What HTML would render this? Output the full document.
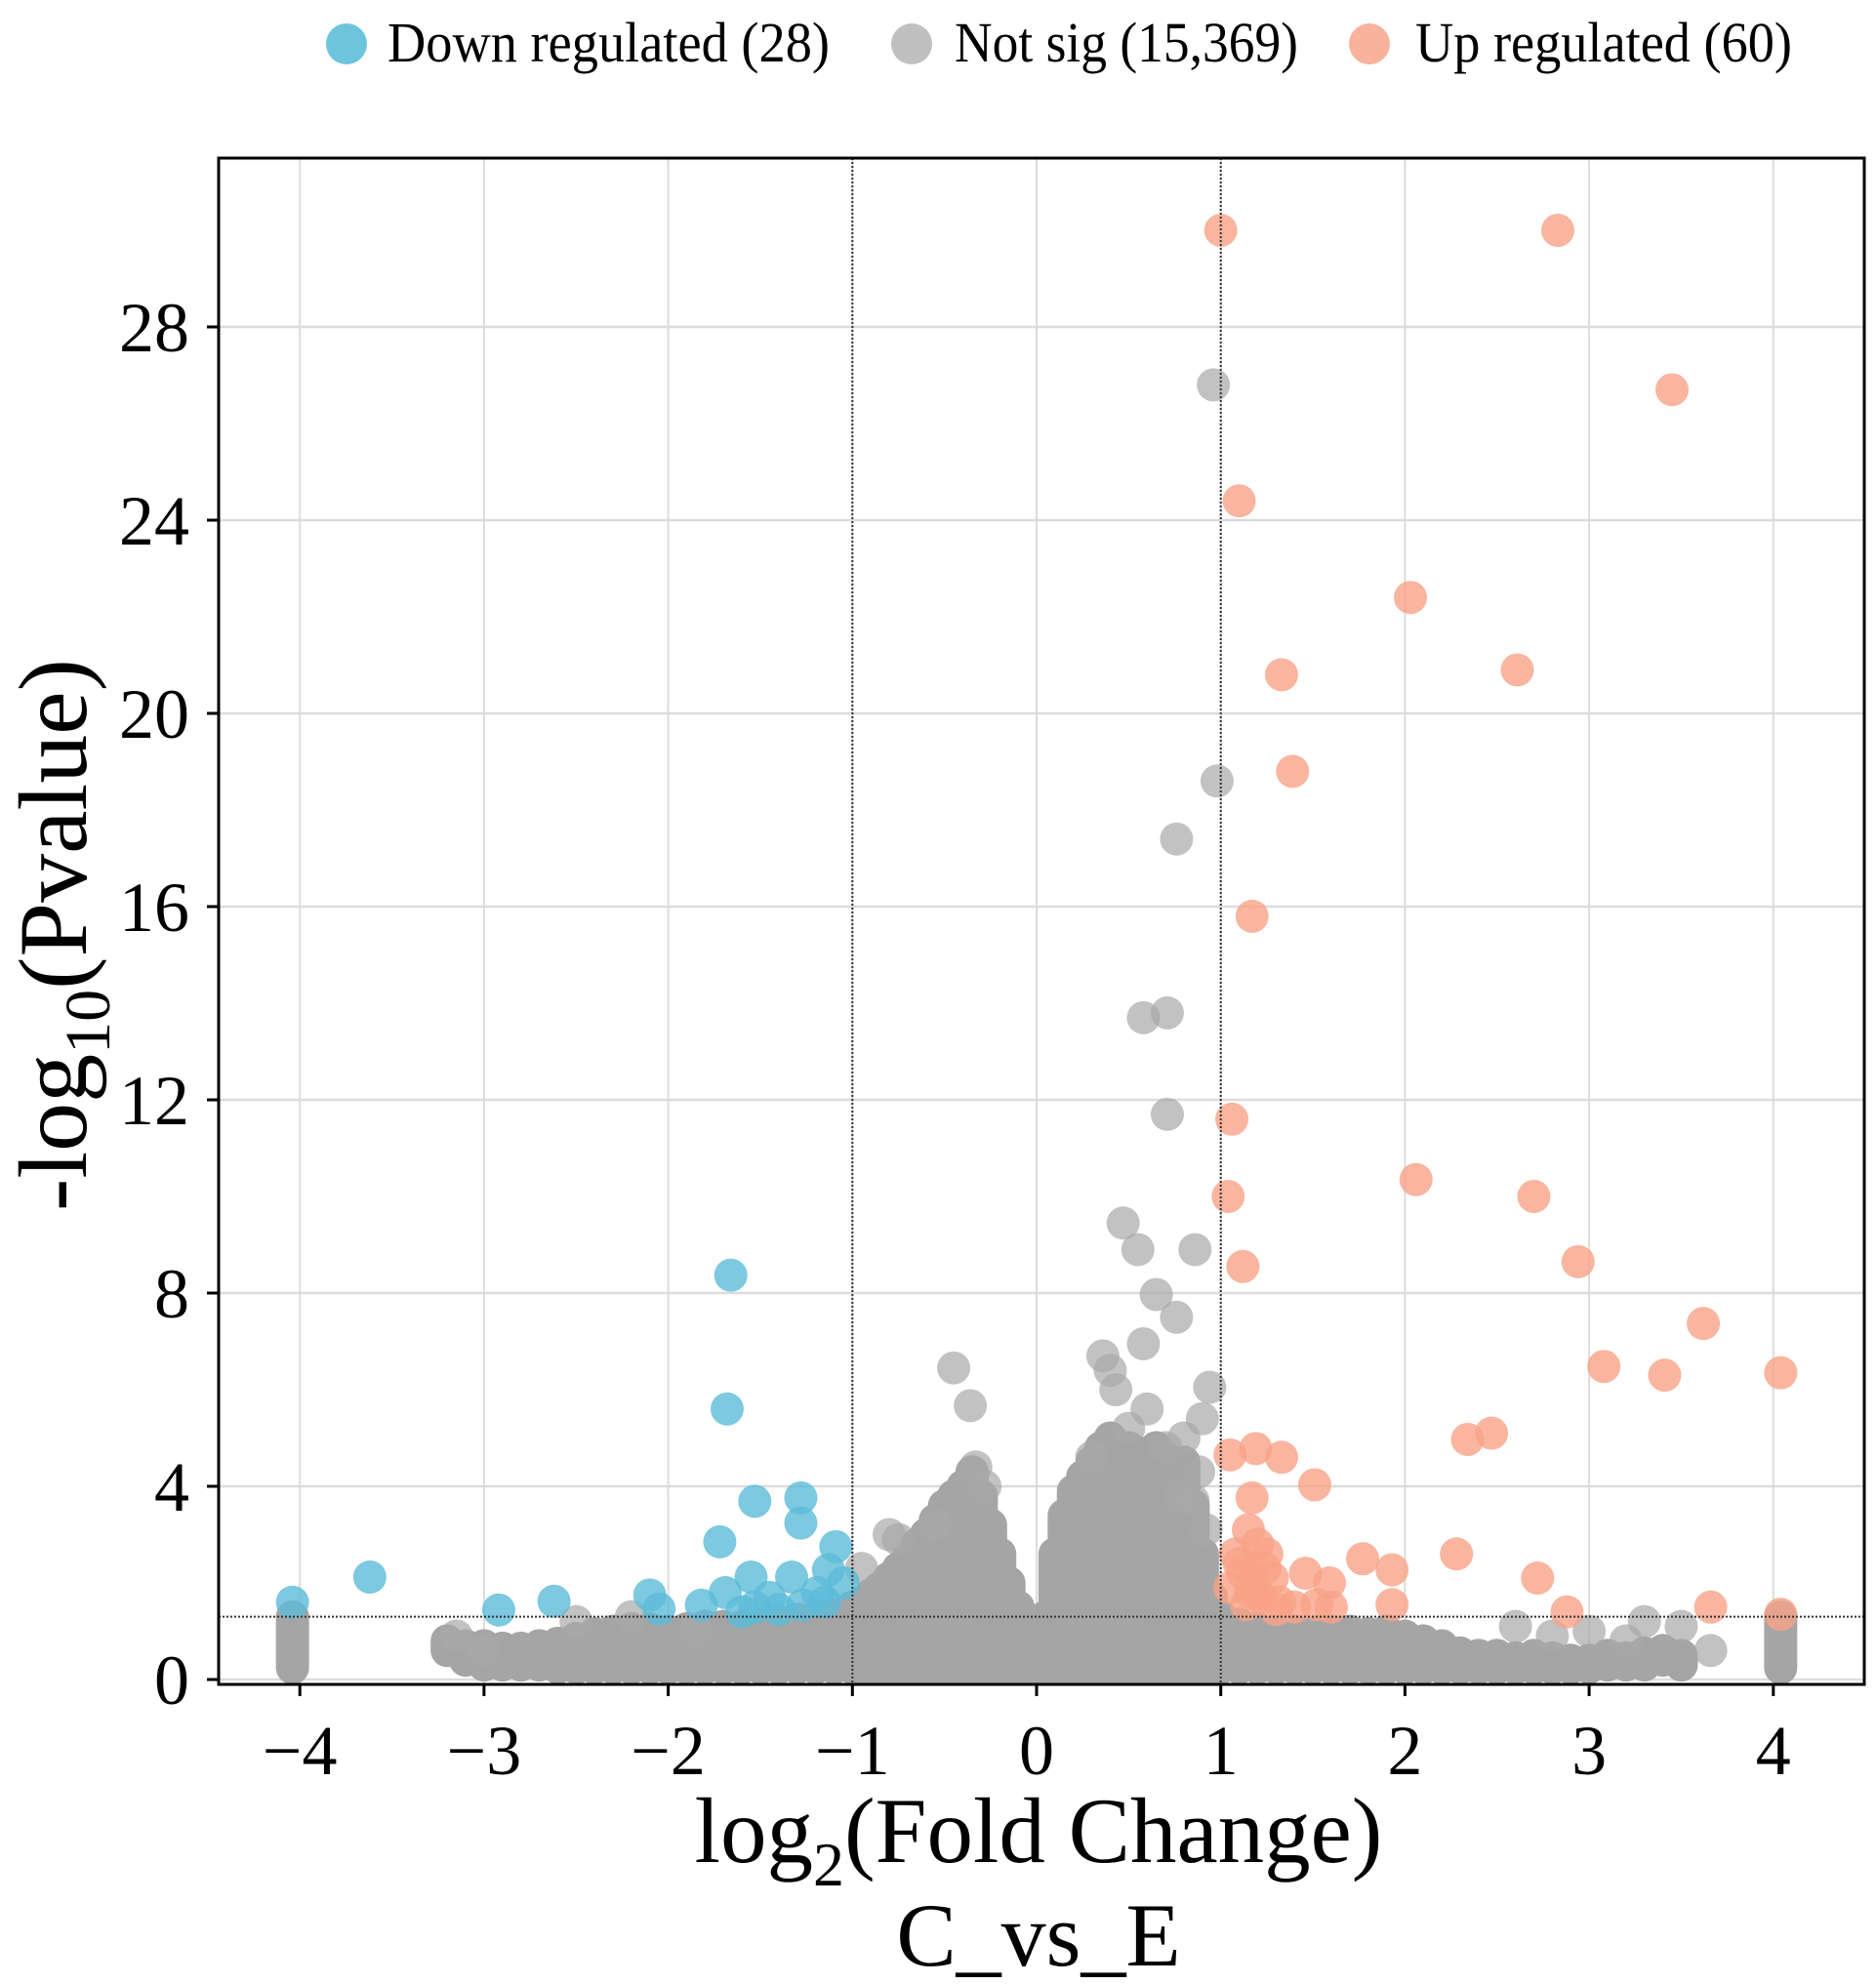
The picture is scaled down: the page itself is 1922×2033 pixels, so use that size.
<!DOCTYPE html>
<html><head><meta charset="utf-8"><title>Volcano plot C_vs_E</title>
<style>html,body{margin:0;padding:0;background:#fff}svg{display:block}text{font-family:"Liberation Serif","DejaVu Serif",serif;fill:#000}</style>
</head><body>
<svg id="chart" width="1922" height="2033" viewBox="0 0 1922 2033" xmlns="http://www.w3.org/2000/svg">
<g id="legend">
 <g><circle cx="355" cy="45" r="21" fill="#6cc5dd"/><text x="397" y="63" font-size="58" textLength="453" lengthAdjust="spacingAndGlyphs">Down regulated (28)</text></g>
 <g><circle cx="934" cy="45" r="21" fill="#c0c0c0"/><text x="978" y="63" font-size="58" textLength="352" lengthAdjust="spacingAndGlyphs">Not sig (15,369)</text></g>
 <g><circle cx="1403" cy="45" r="21" fill="#f9b29c"/><text x="1450" y="63" font-size="58" textLength="386" lengthAdjust="spacingAndGlyphs">Up regulated (60)</text></g>
</g>
<g id="grid"></g>
<g id="cloud"></g>
<g id="marks"></g>
<g id="refs"></g>
<rect x="224" y="162" width="1686" height="1564" fill="none" stroke="#000" stroke-width="3"/>
<g id="axes"></g>
<text transform="translate(88,958) rotate(-90)" text-anchor="middle" font-size="100">-log<tspan font-size="66" dy="24">10</tspan><tspan dy="-24">(Pvalue)</tspan></text>
<text x="1064" y="1908" text-anchor="middle" font-size="95">log<tspan font-size="64" dy="24">2</tspan><tspan dy="-24">(Fold Change)</tspan></text>
<text x="1064" y="2014" text-anchor="middle" font-size="92">C_vs_E</text>
</svg>
<script>
const xTicks=[-4,-3,-2,-1,0,1,2,3,4];
const xTickLabels=["\u22124","\u22123","\u22122","\u22121","0","1","2","3","4"];
const yTicks=[0,4,8,12,16,20,24,28];
const yTickLabels=["0","4","8","12","16","20","24","28"];
const fcCut=[-1,1];
const pCut=1.3;
const upX=[1.00,2.83,3.45,1.10,2.03,1.33,2.61,1.39,1.17,1.06,1.04,1.12,2.06,2.70,2.94,3.62,3.08,3.41,4.04,2.34,2.47,1.05,1.19,1.33,1.51,1.17,2.28,1.77,1.93,2.72,1.59,1.46,1.15,1.20,1.25,1.10,1.18,1.28,1.16,1.05,1.32,1.52,1.60,1.93,2.88,3.66,4.04,1.08,1.22,1.12,1.30,1.40,1.24,1.14];
const upY=[30.0,30.0,26.7,24.4,22.4,20.8,20.9,18.8,15.8,11.6,10.0,8.55,10.35,10.0,8.65,7.37,6.48,6.3,6.35,4.97,5.1,4.65,4.78,4.6,4.03,3.76,2.6,2.5,2.27,2.1,2.0,2.2,3.1,2.8,2.6,2.4,2.0,2.1,1.8,1.9,1.6,1.55,1.5,1.55,1.4,1.5,1.35,2.6,1.7,2.2,1.45,1.5,2.3,1.55];
const downX=[-1.66,-1.68,-1.53,-1.28,-1.28,-1.72,-1.09,-3.62,-1.55,-1.33,-1.13,-1.69,-2.10,-2.62,-2.92,-4.04,-1.82,-2.05,-1.53,-1.27,-1.19,-1.05,-1.60,-1.40,-1.15,-1.45];
const downY=[8.37,5.6,3.69,3.76,3.24,2.85,2.75,2.12,2.12,2.12,2.27,1.8,1.75,1.62,1.44,1.6,1.54,1.46,1.5,1.54,1.8,2.0,1.4,1.45,1.6,1.7];
const sigX=[0.96,0.98,0.76,0.58,0.71,0.71,0.47,0.55,0.86,0.65,0.76,0.58,0.36,-0.45,-0.36,0.94,0.60,0.43,0.40,0.90,0.80,0.88,-0.33,-0.28,-0.80,-0.75,-0.95,0.70,0.78,0.85,0.92,0.50,0.30,-0.55,-3.15,-3.0,-2.5,-2.2,-1.85,3.0,3.2,3.5,3.66,3.3,2.6,2.8];
const sigY=[26.8,18.6,17.4,13.7,13.8,11.7,9.45,8.9,8.9,7.97,7.5,6.95,6.7,6.45,5.67,6.05,5.6,6.0,6.4,5.4,5.0,4.3,4.4,4.0,3.0,2.9,2.3,4.8,3.8,3.7,3.1,5.2,4.6,3.2,0.9,0.6,1.2,1.3,1.0,1.0,0.8,1.1,0.6,1.2,1.1,0.9];
const cloudX=[-3.2,-3.1,-3.0,-2.9,-2.8,-2.7,-2.6,-2.5,-2.4,-2.3,-2.2,-2.1,-2.0,-1.9,-1.8,-1.7,-1.6,-1.5,-1.4,-1.3,-1.2,-1.1,-1.0,-0.95,-0.9,-0.85,-0.8,-0.75,-0.7,-0.65,-0.6,-0.55,-0.5,-0.45,-0.4,-0.35,-0.3,-0.25,-0.2,-0.15,-0.1,-0.05,0.0,0.05,0.1,0.15,0.2,0.25,0.3,0.35,0.4,0.45,0.5,0.55,0.6,0.65,0.7,0.75,0.8,0.85,0.9,0.95,1.0,1.1,1.2,1.3,1.4,1.5,1.6,1.7,1.8,1.9,2.0,2.1,2.2,2.3,2.4,2.5,2.6,2.7,2.8,2.9,3.0,3.1,3.2,3.3,3.4,3.5,-4.04,4.04];
const cloudTop=[0.8,0.7,0.7,0.65,0.65,0.7,0.75,0.85,0.95,1.0,1.05,1.05,1.0,1.05,1.1,1.1,1.1,1.15,1.2,1.25,1.3,1.35,1.5,1.6,1.75,1.9,2.1,2.3,2.5,2.8,3.0,3.3,3.6,3.8,4.0,4.3,3.8,3.2,2.6,2.0,1.5,1.0,0.6,1.3,2.6,3.4,3.9,4.2,4.5,4.8,5.0,4.7,4.8,4.7,4.5,4.8,4.6,4.3,4.5,3.6,2.6,1.7,1.3,1.15,1.05,1.0,1.0,0.95,1.0,1.0,0.95,1.0,0.9,0.8,0.7,0.55,0.5,0.5,0.45,0.5,0.45,0.4,0.4,0.5,0.45,0.55,0.6,0.5,1.3,1.3];
const cloudBot=[0.6,0.4,0.3,0.3,0.3,0.3,0.25,0.2,0.15,0.05,0.05,0.05,0.05,0.05,0.05,0.05,0.05,0.05,0.05,0.05,0.05,0.05,0.05,0.05,0.05,0.05,0.05,0.05,0.05,0.05,0.05,0.05,0.05,0.05,0.05,0.05,0.05,0.05,0.05,0.05,0.05,0.05,0.05,0.05,0.05,0.05,0.05,0.05,0.05,0.05,0.05,0.05,0.05,0.05,0.05,0.05,0.05,0.05,0.05,0.05,0.05,0.05,0.05,0.05,0.05,0.05,0.05,0.05,0.05,0.05,0.05,0.05,0.05,0.05,0.05,0.1,0.15,0.2,0.2,0.2,0.2,0.2,0.25,0.3,0.3,0.3,0.4,0.3,0.05,0.05];

const NS='http://www.w3.org/2000/svg';
const X0=1062,XU=188.7,Y0=1721,YU=49.5,L=224,R=1910,T=162,B=1726,PR=17;
function sx(v){return X0+v*XU;}
function sy(v){return Y0-v*YU;}
function mk(tag,attrs,parent){const e=document.createElementNS(NS,tag);for(const k in attrs)e.setAttribute(k,attrs[k]);parent.appendChild(e);return e;}
const grid=document.getElementById('grid'),cloud=document.getElementById('cloud'),marks=document.getElementById('marks'),refs=document.getElementById('refs'),axes=document.getElementById('axes');
xTicks.forEach(function(v,i){
 const g=mk('line',{x1:sx(v),x2:sx(v),y1:T,y2:B,stroke:'#dcdcdc','stroke-width':2},grid);
 
 
 const t=mk('line',{x1:sx(v),x2:sx(v),y1:B,y2:B+12,stroke:'#000','stroke-width':3},axes);
 
 
 const lb=mk('text',{x:sx(v),y:1818,'text-anchor':'middle','font-size':72},axes);
 lb.textContent=xTickLabels[i];
 
 
});
yTicks.forEach(function(v,i){
 const g=mk('line',{x1:L,x2:R,y1:sy(v),y2:sy(v),stroke:'#dcdcdc','stroke-width':2.5},grid);
 
 
 const t=mk('line',{x1:L-12,x2:L,y1:sy(v),y2:sy(v),stroke:'#000','stroke-width':3},axes);
 
 
 const lb=mk('text',{x:194,y:sy(v)+25,'text-anchor':'end','font-size':72},axes);
 lb.textContent=yTickLabels[i];
 
 
});
cloudX.forEach(function(v,i){
 const top=sy(cloudTop[i])-PR,bot=Math.min(sy(cloudBot[i])+PR,B);
 const r=mk('rect',{x:sx(v)-PR,y:top,width:2*PR,height:Math.max(bot-top,2*PR),rx:PR,fill:'#a5a5a5'},cloud);
 
 
});
function dots(xs,ys,fill,op,name){xs.forEach(function(v,i){
 const c=mk('circle',{cx:sx(v),cy:sy(ys[i]),r:PR,fill:fill,'fill-opacity':op},marks);
 
 
});}
dots(sigX,sigY,'#a8a8a8',0.7,'not-sig-point');
dots(downX,downY,'#5bbcd8',0.8,'down-regulated-point');
dots(upX,upY,'#f8a387',0.8,'up-regulated-point');
fcCut.forEach(function(v){
 const l=mk('line',{x1:sx(v),x2:sx(v),y1:T,y2:B,stroke:'#333','stroke-width':2,'stroke-dasharray':'2,2'},refs);
 
 
});
const hl=mk('line',{x1:L,x2:R,y1:sy(pCut),y2:sy(pCut),stroke:'#333','stroke-width':2,'stroke-dasharray':'2,2'},refs);


</script>
</body></html>
